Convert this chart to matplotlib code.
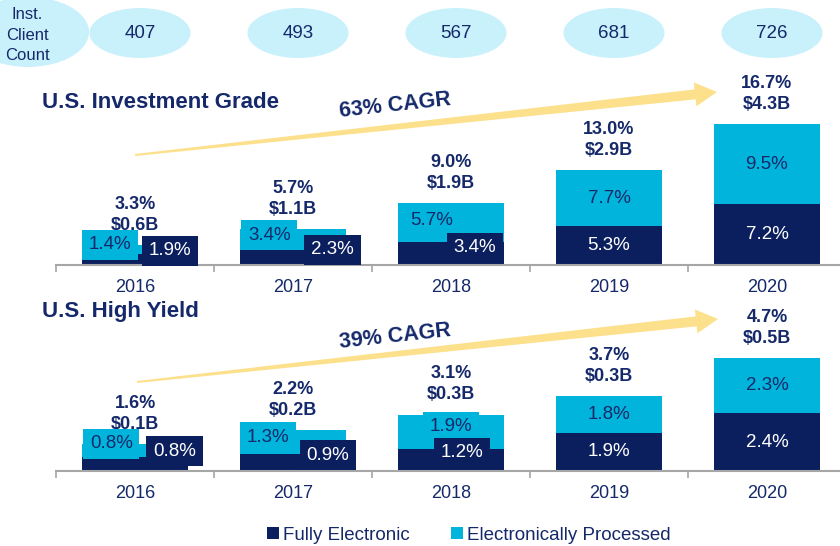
import numpy as np
import matplotlib.pyplot as plt
from matplotlib.patches import Ellipse, Polygon

years = ["2016", "2017", "2018", "2019", "2020"]
client_count = [407, 493, 567, 681, 726]

# U.S. Investment Grade: share of volume (%), total volume ($B)
ig_fully = [1.9, 2.3, 3.4, 5.3, 7.2]
ig_processed = [1.4, 3.4, 5.7, 7.7, 9.5]
ig_total = [3.3, 5.7, 9.0, 13.0, 16.7]
ig_volume = [0.6, 1.1, 1.9, 2.9, 4.3]
ig_volume_label = [0.6, 1.1, 1.9, 2.9, 4.3]
ig_cagr = "63% CAGR"

# U.S. High Yield (bar heights, labels are rounded)
hy_fully = [0.8, 0.9, 1.2, 1.9, 2.4]
hy_processed = [0.8, 1.3, 1.9, 1.8, 2.3]
hy_total = [1.6, 2.2, 3.1, 3.7, 4.7]
hy_volume = [0.12, 0.18, 0.25, 0.33, 0.5]
hy_volume_label = [0.1, 0.2, 0.3, 0.3, 0.5]
hy_cagr = "39% CAGR"

DARK = "#0b1f5e"
LIGHT = "#00b4dc"
NAVY = "#15296a"
GREY = "#a6a6a6"
ELL = "#c9f1fb"
ARROW = "#fde08c"

plt.rcParams["font.family"] = ["Liberation Sans", "DejaVu Sans"]

W, H = 840, 546
fig = plt.figure(figsize=(W / 100, H / 100), dpi=100)

# overlay in pixel coords (y down) for the decorations
ov = fig.add_axes([0, 0, 1, 1], zorder=0)
ov.set_xlim(0, W)
ov.set_ylim(H, 0)
ov.axis("off")


def bar_axes(axis_y, height_px, px_per_unit):
    ax = fig.add_axes([56 / W, (H - axis_y) / H, 790 / W, height_px / H], zorder=1)
    ax.set_facecolor("none")
    ax.set_xlim(-0.5, 4.5)
    ax.set_ylim(0, height_px / px_per_unit)
    for s in ["top", "left", "right"]:
        ax.spines[s].set_visible(False)
    ax.spines["bottom"].set_color(GREY)
    ax.spines["bottom"].set_linewidth(1.5)
    ax.set_yticks([])
    ax.set_xticks(np.arange(-0.5, 5, 1))
    ax.set_xticklabels([])
    ax.tick_params(axis="x", which="major", length=5, width=1.2, color=GREY, direction="out")
    ax.set_xticks(range(5), minor=True)
    ax.set_xticklabels(years, minor=True, fontsize=13, color=NAVY)
    ax.tick_params(axis="x", which="minor", length=0, pad=10)
    return ax


def draw_panel(ax, fully, processed, total, volume, vol_label, box_pos):
    x = np.arange(len(years))
    fully = np.array(fully)
    processed = np.array(processed)
    volume = np.array(volume)
    fe_h = volume * fully / (fully + processed)
    ep_h = volume - fe_h
    ax.bar(x, fe_h, width=0.665, color=DARK)
    ax.bar(x, ep_h, bottom=fe_h, width=0.665, color=LIGHT)
    for i in x:
        ax.annotate(f"{total[i]:.1f}%\n${vol_label[i]:.1f}B", xy=(i, volume[i]),
                    xytext=(0, 8), textcoords="offset points", ha="center", va="bottom",
                    fontsize=13, fontweight="bold", color=NAVY, linespacing=1.3)
        if box_pos[i] is None:
            ax.text(i, fe_h[i] + ep_h[i] / 2, f"{processed[i]:.1f}%", ha="center", va="center",
                    fontsize=13.5, color=NAVY)
            ax.text(i, fe_h[i] / 2, f"{fully[i]:.1f}%", ha="center", va="center",
                    fontsize=13.5, color="white")
        else:
            (lx, ly), (dx, dy) = box_pos[i]
            ax.text(i + lx, ly, f"{processed[i]:.1f}%", ha="center", va="center",
                    fontsize=13.5, color=NAVY, zorder=3,
                    bbox=dict(boxstyle="square,pad=0.36", fc=LIGHT, ec="none"))
            ax.text(i + dx, dy, f"{fully[i]:.1f}%", ha="center", va="center",
                    fontsize=13.5, color="white", zorder=4,
                    bbox=dict(boxstyle="square,pad=0.36", fc=DARK, ec="none"))


def draw_arrow(tail, tip, cagr, text_xy):
    tail = np.array(tail, float)
    tip = np.array(tip, float)
    d = tip - tail
    L = np.hypot(*d)
    u = d / L
    n = np.array([-u[1], u[0]])
    base = tail + u * (L - 22)
    pts = [tail + n * 1, base + n * 5, base + n * 12, tip,
           base - n * 12, base - n * 5, tail - n * 1]
    ov.add_patch(Polygon(pts, closed=True, fc=ARROW, ec="none"))
    ang = np.degrees(np.arctan2(-d[1], d[0]))
    ov.text(*text_xy, cagr, rotation=ang, ha="center", va="center",
            fontsize=15.5, fontweight="bold", color=NAVY, rotation_mode="anchor")


ax1 = bar_axes(265, 200, 32.8)
ax2 = bar_axes(471, 150, 226)

ig_boxes = [((-0.16, 0.61), (0.22, 0.43)), ((-0.15, 0.91), (0.25, 0.46)),
            ((-0.12, 1.37), (0.15, 0.52)), None, None]
hy_boxes = [((-0.15, 0.12), (0.25, 0.088)), ((-0.16, 0.15), (0.22, 0.07)),
            ((0.0, 0.195), (0.07, 0.08)), None, None]

draw_panel(ax1, ig_fully, ig_processed, ig_total, ig_volume, ig_volume_label, ig_boxes)
draw_panel(ax2, hy_fully, hy_processed, hy_total, hy_volume, hy_volume_label, hy_boxes)

# client count ellipses over each year
ov.add_patch(Ellipse((28, 32), 122, 70, fc=ELL, ec="none"))
ov.text(27, 35, "Inst.\nClient\nCount", ha="center", va="center", fontsize=12,
        color=NAVY, linespacing=1.45)
fig.canvas.draw()
for i, c in enumerate(client_count):
    cx = ax1.transData.transform((i, 0))[0] + 5
    ov.add_patch(Ellipse((cx, 33), 101, 50, fc=ELL, ec="none"))
    ov.text(cx, 34, str(c), ha="center", va="center", fontsize=13.5, color=NAVY)

ov.text(42, 103, "U.S. Investment Grade", ha="left", va="center", fontsize=16,
        fontweight="bold", color=NAVY)
ov.text(42, 311, "U.S. High Yield", ha="left", va="center", fontsize=16,
        fontweight="bold", color=NAVY)

draw_arrow((135, 155), (717, 92), ig_cagr, (395, 106))
draw_arrow((137, 382), (718, 319), hy_cagr, (395, 336))

handles = [plt.Rectangle((0, 0), 1, 1, fc=DARK), plt.Rectangle((0, 0), 1, 1, fc=LIGHT)]
fig.legend(handles, ["Fully Electronic", "Electronically Processed"], loc="center",
           bbox_to_anchor=(469 / W, 11 / H), ncol=2, frameon=False, fontsize=13.5,
           handlelength=0.65, handleheight=0.65, handletextpad=0.2, columnspacing=2.2,
           labelcolor=NAVY)

fig.savefig("out.png", dpi=100)
